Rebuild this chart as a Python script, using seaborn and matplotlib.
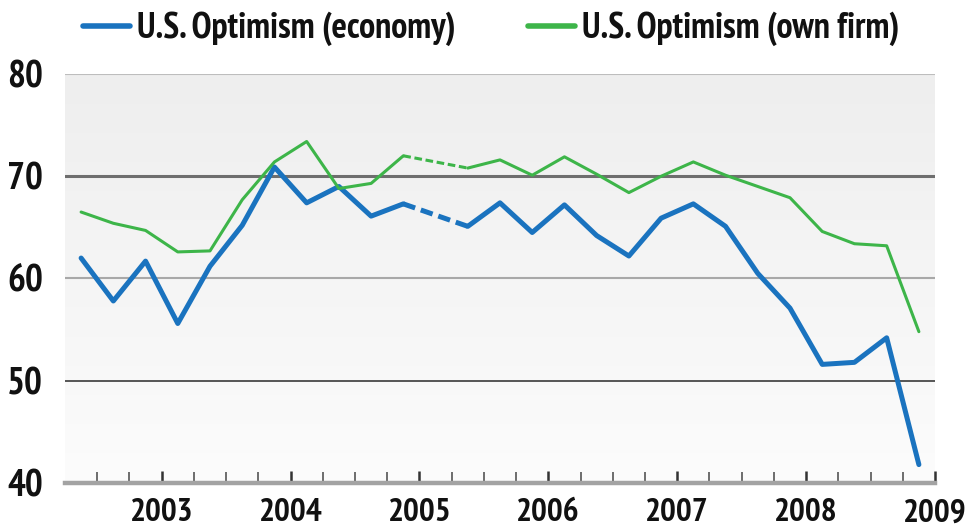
import numpy as np
import pandas as pd
import matplotlib
matplotlib.use("Agg")
import matplotlib.pyplot as plt
import seaborn as sns
from matplotlib.lines import Line2D
from matplotlib.ticker import FixedLocator

# ---------------- data ----------------
quarters = ["2002Q2", "2002Q3", "2002Q4",
            "2003Q1", "2003Q2", "2003Q3", "2003Q4",
            "2004Q1", "2004Q2", "2004Q3", "2004Q4",
            "2005Q1", "2005Q2", "2005Q3", "2005Q4",
            "2006Q1", "2006Q2", "2006Q3", "2006Q4",
            "2007Q1", "2007Q2", "2007Q3", "2007Q4",
            "2008Q1", "2008Q2", "2008Q3", "2008Q4"]
economy = [62.0, 57.8, 61.7, 55.6, 61.2, 65.2, 70.9, 67.4, 69.0, 66.1, 67.3,
           np.nan, 65.1, 67.4, 64.5, 67.2, 64.2, 62.2, 65.9, 67.3, 65.1,
           60.5, 57.1, 51.6, 51.8, 54.2, 41.8]
own_firm = [66.5, 65.4, 64.7, 62.6, 62.7, 67.7, 71.4, 73.4, 68.8, 69.3, 72.0,
            np.nan, 70.8, 71.6, 70.1, 71.9, 70.2, 68.4, 70.0, 71.4, 70.1,
            69.0, 67.9, 64.6, 63.4, 63.2, 54.8]
series_names = ["U.S. Optimism (economy)", "U.S. Optimism (own firm)"]
year_labels = ["2003", "2004", "2005", "2006", "2007", "2008", "2009"]
y_ticks = [40, 50, 60, 70, 80]

# ---------------- styling ----------------
colors = {"U.S. Optimism (economy)": "#1a73bf", "U.S. Optimism (own firm)": "#3db549"}
widths = {"U.S. Optimism (economy)": 3.6, "U.S. Optimism (own firm)": 2.2}
FONT = ["PT Sans Narrow", "Roboto Condensed", "Roboto", "DejaVu Sans"]

sns.set_theme(style="white")
plt.rcParams["font.family"] = FONT
plt.rcParams["font.weight"] = "bold"


def q_to_year(q):
    y, n = q.split("Q")
    return int(y) + (int(n) - 1) * 0.25 + 0.125


rows = []
for name, vals in zip(series_names, [economy, own_firm]):
    for q, v in zip(quarters, vals):
        rows.append({"quarter": q, "t": q_to_year(q), "value": v, "series": name})
df = pd.DataFrame(rows)

fig = plt.figure(figsize=(9.67, 5.31), dpi=100)
ax = fig.add_axes([65 / 967, 1 - 483 / 531, 870 / 967, 409 / 531])

# gradient background
grad = np.linspace(0, 1, 256).reshape(-1, 1)
ax.imshow(grad, cmap=matplotlib.colors.LinearSegmentedColormap.from_list(
    "bg", ["#eeeeee", "#fcfcfc"]), aspect="auto",
    extent=[2002.25, 2009.0, 40, 80], origin="upper", zorder=0)

# horizontal grid lines
grid_style = {80: ("#bdbdbd", 1.5), 70: ("#6e6e6e", 2.2), 60: ("#a8a8a8", 1.5), 50: ("#555555", 1.4)}
for yv, (c, lw) in grid_style.items():
    ax.axhline(yv, color=c, lw=lw, zorder=1)

for name in series_names:
    sub = df[df["series"] == name].reset_index(drop=True)
    seg_id = sub["value"].isna().cumsum()
    valid = sub[sub["value"].notna()].copy()
    valid["seg"] = seg_id[sub["value"].notna()]
    for _, seg in valid.groupby("seg"):
        sns.lineplot(data=seg, x="t", y="value", color=colors[name],
                     lw=widths[name], ax=ax, zorder=3, legend=False,
                     estimator=None, sort=False)
    # dashed bridge across missing quarters
    gaps = sub.index[sub["value"].isna()]
    for g in gaps:
        bridge = sub.loc[[g - 1, g + 1]]
        sns.lineplot(data=bridge, x="t", y="value", color=colors[name],
                     lw=widths[name], ls=(0, (2.5, 1.2)), ax=ax, zorder=3,
                     legend=False, estimator=None, sort=False)

ax.set_xlim(2002.25, 2009.0)
ax.set_ylim(40, 80)
ax.set_xlabel("")
ax.set_ylabel("")

major = [int(y) for y in year_labels]
minor = [y + f for y in range(2002, 2009) for f in (0.25, 0.5, 0.75)]
minor = [m for m in minor if m > 2002.3]
ax.xaxis.set_major_locator(FixedLocator(major))
ax.xaxis.set_minor_locator(FixedLocator(minor))
ax.set_xticklabels(year_labels)
ax.set_yticks(y_ticks)
ax.set_yticklabels([str(v) for v in y_ticks])

for s in ["top", "right", "left"]:
    ax.spines[s].set_visible(False)
ax.spines["bottom"].set_color("#a3a3a3")
ax.spines["bottom"].set_linewidth(3.2)
ax.spines["bottom"].set_zorder(4)

ax.tick_params(axis="x", which="major", direction="in", length=9, width=1.8,
               color="#333333", pad=11, labelsize=24, labelcolor="#111111", bottom=True)
ax.tick_params(axis="x", which="minor", direction="in", length=8, width=1.2,
               color="#555555", bottom=True)
ax.tick_params(axis="y", which="major", length=0, pad=16, labelsize=27,
               labelcolor="#111111", left=False)
for lab in ax.get_xticklabels() + ax.get_yticklabels():
    lab.set_fontweight("bold")

handles = [Line2D([0], [0], color=colors[n], lw=4.0) for n in series_names]
leg = fig.legend(handles, series_names, loc="center", bbox_to_anchor=(491 / 967, 1 - 29 / 531),
                 ncol=2, frameon=False, handlelength=1.3,
                 handletextpad=0.2, columnspacing=2.0,
                 prop={"family": FONT, "weight": "bold", "size": 26})
for t in leg.get_texts():
    t.set_color("#111111")

fig.savefig("out.png", dpi=100)
